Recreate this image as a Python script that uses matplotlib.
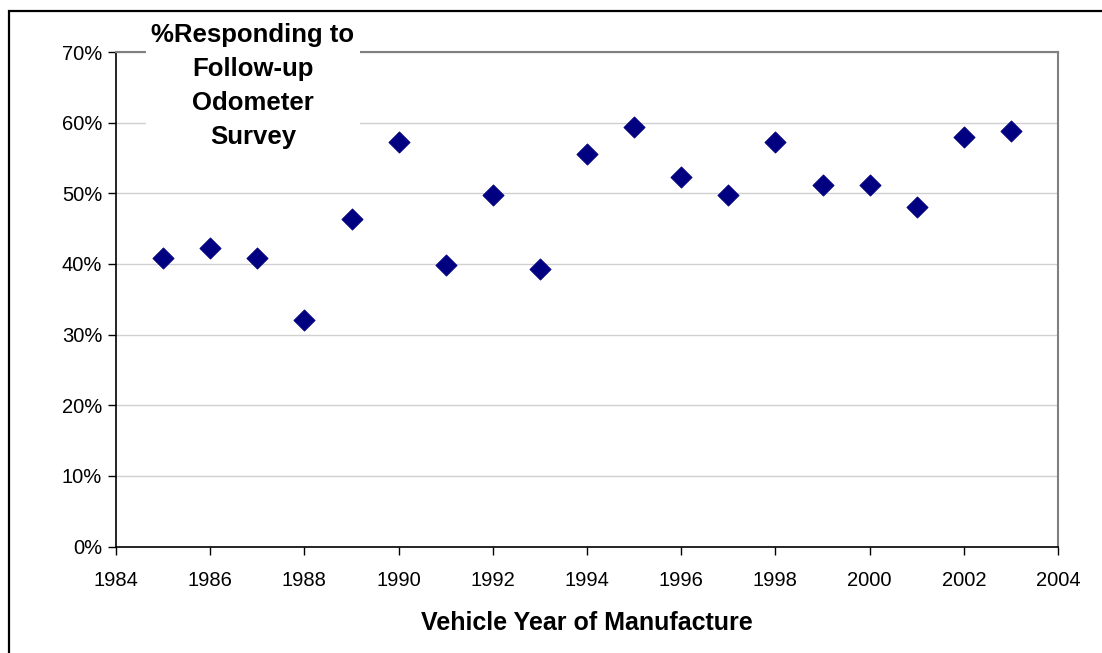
import matplotlib
matplotlib.use("Agg")
import matplotlib.pyplot as plt
from matplotlib.patches import Rectangle
from matplotlib.ticker import FuncFormatter

plt.rcParams['font.family'] = ['Liberation Sans', 'DejaVu Sans']

# Follow-up odometer survey response rate by model year
years = [1985, 1986, 1987, 1988, 1989, 1990, 1991, 1992, 1993, 1994,
         1995, 1996, 1997, 1998, 1999, 2000, 2001, 2002, 2003]
response_pct = [40.8, 42.2, 40.8, 32.0, 46.4, 57.2, 39.9, 49.8, 39.3, 55.5,
                59.4, 52.3, 49.8, 57.2, 51.2, 51.2, 48.1, 58.0, 58.8]
x_ticks = list(range(1984, 2005, 2))
y_ticks = list(range(0, 71, 10))

W, H = 1102, 653
fig = plt.figure(figsize=(W / 100, H / 100), dpi=100)
fig.patch.set_facecolor('white')

# outer chart frame (runs off the right and bottom edges)
fig.patches.append(Rectangle((8.5 / W, -0.05), 1.2, 1 - 10.5 / H + 0.05,
                             transform=fig.transFigure, fill=False,
                             edgecolor='black', linewidth=1.6, zorder=0))

ax = fig.add_axes([116 / W, 1 - 546.5 / H, (1058 - 116) / W, (546.5 - 52) / H])
ax.set_xlim(1984, 2004)
ax.set_ylim(0, 70)

ax.scatter(years, response_pct, marker='D', s=118, color='#000080',
           edgecolors='#000080', linewidths=0.5, zorder=3, clip_on=False)

ax.set_xticks(x_ticks)
ax.set_yticks(y_ticks)
ax.yaxis.set_major_formatter(FuncFormatter(lambda v, p: f"{v:.0f}%"))
ax.tick_params(axis='both', direction='out', length=6, width=1,
               labelsize=14.5, colors='black', pad=4)
ax.tick_params(axis='x', pad=11.5)

ax.grid(axis='y', color='#d0d0d0', linewidth=1)
ax.set_axisbelow(True)
for side in ('left', 'bottom'):
    ax.spines[side].set_color('black')
    ax.spines[side].set_linewidth(1.2)
for side in ('top', 'right'):
    ax.spines[side].set_color('#808080')
    ax.spines[side].set_linewidth(1.5)

ax.set_xlabel('Vehicle Year of Manufacture', fontsize=18, fontweight='bold',
              labelpad=15)

# title box placed over the upper-left of the plot
fig.text(253 / W, 1 - 86 / H,
         '%Responding to\nFollow-up\nOdometer\nSurvey',
         ha='center', va='center', fontsize=18.5, fontweight='bold',
         linespacing=1.52,
         bbox=dict(facecolor='white', edgecolor='none', pad=4), zorder=5)

fig.savefig('out.png', dpi=100, facecolor='white')
